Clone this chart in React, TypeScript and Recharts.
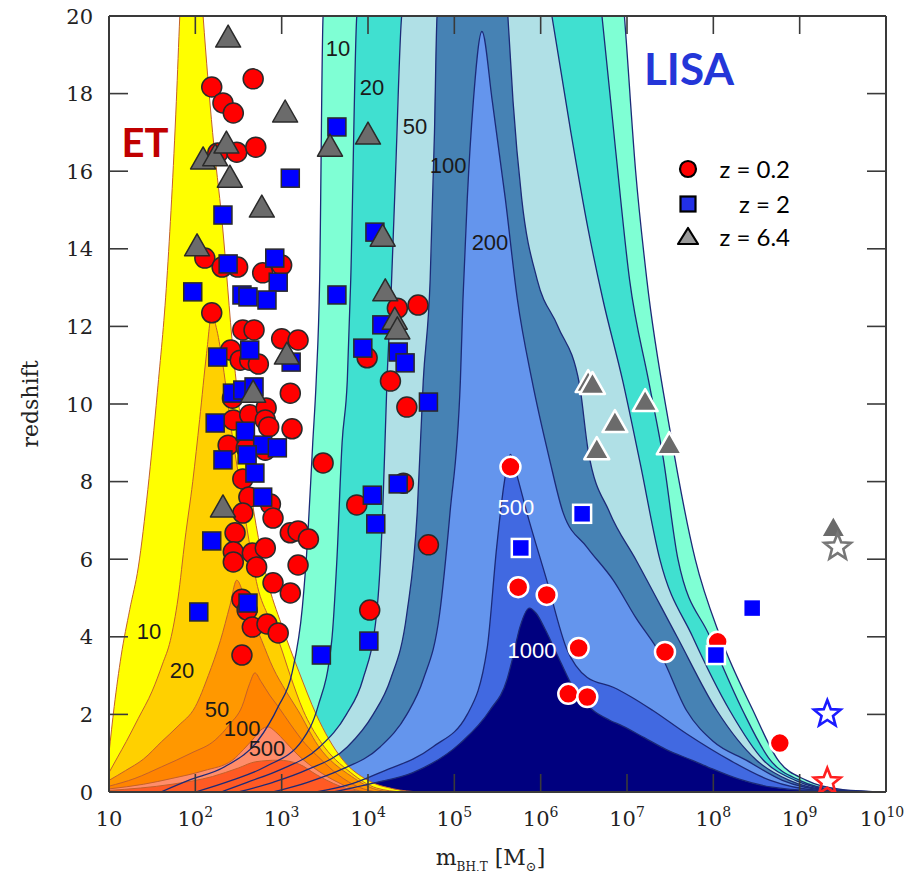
import React from "react";
import { ComposedChart, Area, Line, Scatter, XAxis, YAxis, ReferenceDot, Legend } from "recharts";

type Pt = [number, number];

const CHART_W = 913;
const CHART_H = 879;

// axis ticks: x values are log10(mass)
const xTicks = [1, 2, 3, 4, 5, 6, 7, 8, 9, 10];
const yTicks = [0, 2, 4, 6, 8, 10, 12, 14, 16, 18, 20];

// ---- ET SNR contours: [log10 m, max redshift] ----
const et10: Pt[] = [[1.0,1.0],[1.06,2.2],[1.14,3.5],[1.24,4.7],[1.34,5.8],[1.45,7.8],[1.56,10.3],[1.67,13.2],[1.78,17.8],[1.82,20],[1.95,25],[2.09,20],[2.2,17],[2.31,14.7],[2.44,11.3],[2.63,7.9],[2.83,5.5],[3.0,4.3],[3.2,3.1],[3.4,2.0],[3.7,0.85],[4.0,0.3],[4.3,0.08],[4.6,0]];
const et20: Pt[] = [[1.0,0.5],[1.1,0.9],[1.2,1.3],[1.34,1.9],[1.5,2.6],[1.62,3.3],[1.71,3.9],[1.8,5.0],[1.88,6.5],[1.97,8.0],[2.05,9.6],[2.13,11.3],[2.19,12.3],[2.25,11.9],[2.32,11.0],[2.42,9.3],[2.52,7.9],[2.62,6.5],[2.72,5.3],[2.85,4.5],[2.98,3.8],[3.1,3.0],[3.25,2.1],[3.45,1.3],[3.8,0.5],[4.1,0.1],[4.4,0]];
const et50: Pt[] = [[1.0,0.3],[1.19,0.55],[1.4,0.85],[1.61,1.3],[1.8,1.7],[2.0,2.2],[2.15,3.0],[2.29,3.9],[2.4,4.8],[2.48,5.46],[2.56,5.1],[2.66,4.5],[2.77,3.9],[2.9,3.2],[3.05,2.6],[3.19,2.1],[3.42,1.2],[3.81,0.4],[4.1,0.06],[4.3,0]];
const et100: Pt[] = [[1.0,0.15],[1.3,0.35],[1.61,0.65],[1.95,1.0],[2.23,1.34],[2.4,1.75],[2.54,2.2],[2.63,2.8],[2.69,3.07],[2.76,2.85],[2.86,2.5],[2.96,2.2],[3.1,1.75],[3.27,1.25],[3.45,0.85],[3.65,0.45],[3.9,0.12],[4.1,0]];
const et200: Pt[] = [[1.0,0.08],[1.4,0.2],[1.73,0.35],[2.1,0.55],[2.43,0.82],[2.56,1.1],[2.66,1.34],[2.76,1.6],[2.84,1.68],[2.93,1.55],[3.04,1.3],[3.19,0.95],[3.42,0.55],[3.65,0.25],[3.9,0.03],[4.0,0]];
const et500: Pt[] = [[1.0,0.04],[1.73,0.2],[2.2,0.4],[2.5,0.62],[2.7,0.78],[2.96,0.82],[3.2,0.72],[3.4,0.45],[3.6,0.22],[3.8,0.06],[3.95,0]];

// ---- LISA SNR contours ----
const lisa10: Pt[] = [[1.6,0],[1.92,0.3],[2.34,0.65],[2.73,1.34],[2.96,2.2],[3.12,3.07],[3.24,4.77],[3.3,6.5],[3.36,9],[3.40,10.6],[3.44,13.2],[3.48,20],[4.3,32],[6.2,32],[6.97,20],[7.1,16],[7.23,13.2],[7.5,9.3],[7.79,6.0],[8.08,4.0],[8.46,2.1],[8.75,0.82],[9.08,0.3],[9.5,0.06],[10,0]];
const lisa20: Pt[] = [[2.0,0],[2.42,0.3],[2.81,0.65],[3.24,1.34],[3.42,2.2],[3.58,3.9],[3.64,6],[3.70,9],[3.76,10.6],[3.80,13.2],[3.87,20],[4.5,30],[5.8,30],[6.71,20],[6.87,16.5],[7.03,13.2],[7.25,10.6],[7.42,8.6],[7.59,6.0],[7.96,4.0],[8.34,2.1],[8.66,0.82],[9.0,0.3],[9.45,0.05],[10,0]];
const lisa50: Pt[] = [[2.3,0],[2.6,0.25],[2.98,0.57],[3.44,1.16],[3.75,2.0],[3.94,2.9],[4.1,4.6],[4.17,7.2],[4.22,10.6],[4.27,13],[4.32,16],[4.39,20],[4.9,26],[5.6,26],[6.13,20],[6.35,17],[6.55,14.5],[6.72,12.7],[6.95,10.6],[7.15,8.5],[7.38,6.0],[7.76,4.0],[8.19,2.1],[8.58,0.82],[8.95,0.3],[9.4,0.05],[10,0]];
const lisa100: Pt[] = [[2.5,0],[2.9,0.25],[3.29,0.57],[3.76,1.16],[4.06,2.0],[4.26,2.9],[4.45,4.6],[4.57,7.2],[4.64,10.6],[4.72,13.2],[4.77,17],[4.80,20],[5.1,24],[5.45,24],[5.62,20],[5.68,17.8],[5.78,15.3],[5.96,13.2],[6.2,12],[6.45,10.5],[6.55,8.8],[6.8,7.2],[7.1,6.0],[7.58,4.0],[8.04,2.1],[8.5,0.82],[8.88,0.3],[9.35,0.05],[10,0]];
const lisa200: Pt[] = [[2.9,0],[3.3,0.25],[3.68,0.57],[4.14,1.16],[4.45,2.0],[4.64,2.9],[4.83,4.6],[4.95,7.2],[5.07,10.6],[5.10,12.7],[5.15,15.3],[5.22,17.8],[5.32,19.6],[5.44,17.8],[5.59,15.3],[5.73,12.7],[5.9,10.6],[6.1,8.6],[6.26,7.2],[6.54,6.3],[6.84,5.46],[7.1,4.5],[7.4,3.5],[7.69,2.1],[8.0,1.3],[8.38,0.82],[8.8,0.3],[9.3,0.05],[10,0]];
const lisa500: Pt[] = [[3.4,0],[3.8,0.2],[4.14,0.5],[4.75,1.16],[5.15,2.0],[5.38,3.7],[5.49,6.3],[5.58,8.0],[5.65,8.7],[5.72,8.2],[5.84,7.2],[6.07,5.46],[6.3,3.7],[6.54,2.95],[6.84,2.7],[7.05,2.45],[7.3,2.1],[7.69,1.5],[8.19,0.82],[8.66,0.3],[9.2,0.05],[10,0]];
const lisa1000: Pt[] = [[3.6,0],[4.06,0.23],[4.52,0.5],[5.07,1.26],[5.41,2.1],[5.61,2.9],[5.67,3.4],[5.76,4.25],[5.87,4.74],[5.95,4.6],[6.05,4.2],[6.22,3.4],[6.4,2.6],[6.61,2.1],[6.8,1.85],[6.95,1.7],[7.2,1.4],[7.45,1.1],[7.75,0.82],[7.93,0.65],[8.3,0.33],[8.66,0.13],[9.2,0.03],[10,0]];

const etContours = [et10, et20, et50, et100, et200, et500];
const etFills = ["#ffff00", "#ffd000", "#ff9800", "#ff8400", "#ff8d6a", "#ff5a24"];
const lisaContours = [lisa10, lisa20, lisa50, lisa100, lisa200, lisa500, lisa1000];
const lisaFills = ["#7fffd4", "#40e0d0", "#b0e0e6", "#4682b4", "#6495ed", "#4169e1", "#00007f"];

// ---- sources: [log10 m, redshift] ----
const redET: Pt[] = [[2.19,18.17],[2.32,17.76],[2.44,17.50],[2.67,18.38],[2.26,16.47],[2.48,16.49],[2.70,16.62],[2.11,13.76],[2.31,13.53],[2.49,13.53],[2.78,13.38],[3.00,13.58],[2.19,12.35],[2.55,11.91],[2.68,11.91],[3.00,11.68],[3.19,11.65],[2.41,11.39],[2.52,11.13],[2.63,11.13],[2.73,11.03],[3.10,10.28],[2.43,10.15],[2.44,9.59],[2.63,9.72],[2.82,9.90],[2.81,9.59],[2.85,9.41],[3.12,9.36],[2.38,8.94],[2.59,8.87],[2.81,8.81],[3.48,8.48],[2.55,8.07],[2.62,7.60],[2.87,7.42],[2.55,7.19],[2.90,7.06],[2.46,6.68],[2.44,6.19],[2.66,6.16],[2.81,6.29],[2.71,5.80],[3.10,6.68],[3.19,6.73],[3.31,6.52],[3.19,5.85],[2.90,5.39],[3.10,5.13],[2.54,4.97],[2.60,4.69],[2.66,4.25],[2.83,4.33],[2.96,4.10],[2.54,3.53],[2.44,5.93],[4.02,4.69],[3.87,7.40],[3.99,11.19],[4.26,10.59],[4.45,9.92],[4.34,12.47],[4.58,12.55],[4.41,7.96],[4.70,6.37]];
const redLISA: Pt[] = [[5.65,8.38],[5.74,5.28],[6.07,5.08],[6.44,3.71],[6.32,2.53],[6.54,2.45],[7.44,3.61],[8.05,3.87],[8.77,1.26]];
const blueET: Pt[] = [[3.64,17.14],[3.10,15.82],[2.32,14.87],[1.97,12.89],[2.38,13.61],[2.92,13.76],[2.96,13.14],[2.54,12.81],[2.61,12.76],[2.83,12.68],[3.64,12.81],[4.08,14.43],[2.26,11.21],[2.63,11.39],[3.11,11.08],[2.43,10.28],[2.55,10.36],[2.68,10.44],[2.23,9.51],[2.58,9.30],[2.78,8.94],[2.95,8.87],[2.32,8.56],[2.60,8.69],[2.69,8.22],[2.78,7.60],[2.19,6.47],[2.04,4.64],[2.61,4.87],[3.46,3.53],[4.01,3.89],[3.94,11.44],[4.16,12.04],[4.35,11.34],[4.43,11.06],[4.70,10.05],[4.05,7.65],[4.09,6.91],[4.35,7.94]];
const blueLISA: Pt[] = [[6.48,7.17],[5.77,6.29],[8.03,3.53],[8.45,4.74]];
const grayET: Pt[] = [[2.38,19.43],[3.04,17.50],[3.56,16.62],[4.00,16.93],[2.09,16.29],[2.23,16.37],[2.36,16.70],[2.40,15.82],[2.77,15.05],[2.02,14.05],[4.17,14.30],[4.20,12.89],[4.31,12.16],[4.34,11.91],[3.06,11.26],[2.67,10.28],[2.32,7.32]];
const grayLISA: Pt[] = [[6.55,10.54],[6.60,10.49],[7.21,10.05],[6.86,9.51],[6.65,8.81],[7.49,8.94],[9.39,6.80]];
const starGray: Pt[] = [[9.44,6.31]];
const starBlue: Pt[] = [[9.32,2.01]];
const starRed: Pt[] = [[9.32,0.26]];

// ---- annotations ----
const etLabels = [
  { lg: 1.463, z: 4.15, text: "10" },
  { lg: 1.846, z: 3.14, text: "20" },
  { lg: 2.251, z: 2.14, text: "50" },
  { lg: 2.541, z: 1.65, text: "100" },
  { lg: 2.83, z: 1.13, text: "500" },
];
const lisaLabels = [
  { lg: 3.653, z: 19.18, text: "10", color: "#1a1a1a" },
  { lg: 4.046, z: 18.17, text: "20", color: "#1a1a1a" },
  { lg: 4.545, z: 17.16, text: "50", color: "#1a1a1a" },
  { lg: 4.927, z: 16.16, text: "100", color: "#1a1a1a" },
  { lg: 5.413, z: 14.18, text: "200", color: "#1a1a1a" },
  { lg: 5.714, z: 7.35, text: "500", color: "#ffffff" },
  { lg: 5.9, z: 3.66, text: "1000", color: "#ffffff" },
];
const detectorLabels = [
  { lg: 1.417, z: 16.75, text: "ET", color: "#c00000", size: 40 },
  { lg: 7.718, z: 18.63, text: "LISA", color: "#2436d8", size: 44 },
];
const legendItems = [
  { label: "z = 0.2", marker: "circle" },
  { label: "z = 2", marker: "square" },
  { label: "z = 6.4", marker: "triangle" },
];

const rows = (pts: Pt[]) => pts.map(([lg, z]) => ({ lg, z }));

const FRAME = "#3a3a3a";
const SERIF = "DejaVu Serif";

const BottomTick = (p: any) => {
  const { x, y, payload } = p;
  const v = payload.value;
  const tx = v === 10 ? x - 4 : x;
  return (
    <g>
      <line x1={x} y1={y} x2={x} y2={y - 18} stroke={FRAME} strokeWidth={1.6} />
      <text x={tx} y={y + 34} textAnchor="middle" fontFamily={SERIF} fontSize={21} fill="#222">
        10{v > 1 ? <tspan dy={-9} fontSize={14}>{v}</tspan> : null}
      </text>
    </g>
  );
};
const TopTick = (p: any) => (
  <line x1={p.x} y1={p.y} x2={p.x} y2={p.y + 18} stroke={FRAME} strokeWidth={1.6} />
);
const LeftTick = (p: any) => (
  <g>
    <line x1={p.x} y1={p.y} x2={p.x + 19} y2={p.y} stroke={FRAME} strokeWidth={1.6} />
    <text x={p.x - 16} y={p.y} dy="0.36em" textAnchor="end" fontFamily={SERIF} fontSize={21} fill="#222">
      {p.payload.value}
    </text>
  </g>
);
const RightTick = (p: any) => (
  <line x1={p.x} y1={p.y} x2={p.x - 19} y2={p.y} stroke={FRAME} strokeWidth={1.6} />
);

const XLabel = (p: any) => {
  const vb = p.viewBox || { x: 0, y: 0, width: 0 };
  return (
    <text x={vb.x + vb.width / 2 - 7} y={vb.y + 73} textAnchor="middle" fontFamily={SERIF} fontSize={22} fill="#222">
      m<tspan fontSize={12} dy={6}>BH,T</tspan>
      <tspan dy={-6}> [M</tspan>
      <tspan fontSize={13} dy={6}>⊙</tspan>
      <tspan dy={-6}>]</tspan>
    </text>
  );
};
const YLabel = (p: any) => {
  const vb = p.viewBox || { x: 0, y: 0, height: 0 };
  const cx = vb.x - 19;
  const cy = vb.y + vb.height / 2;
  return (
    <text x={cx} y={cy} transform={`rotate(-90 ${cx} ${cy})`} textAnchor="middle" dy="0.35em" fontFamily={SERIF} fontSize={22} fill="#222">
      redshift
    </text>
  );
};

const circleShape = (stroke: string, sw: number) => (p: any) => (
  <circle cx={p.cx} cy={p.cy} r={10} fill="#ff0000" stroke={stroke} strokeWidth={sw} />
);
const squareShape = (stroke: string, sw: number) => (p: any) => (
  <rect x={p.cx - 9} y={p.cy - 9} width={18} height={18} fill="#0000ff" stroke={stroke} strokeWidth={sw} />
);
const triShape = (stroke: string, sw: number) => (p: any) => (
  <polygon
    points={`${p.cx},${p.cy - 13} ${p.cx + 12.5},${p.cy + 9} ${p.cx - 12.5},${p.cy + 9}`}
    fill="#6b6b6b" stroke={stroke} strokeWidth={sw} strokeLinejoin="round"
  />
);
const starPts = (cx: number, cy: number, R: number, r: number) => {
  const out: string[] = [];
  for (let i = 0; i < 10; i++) {
    const a = -Math.PI / 2 + (i * Math.PI) / 5;
    const rad = i % 2 === 0 ? R : r;
    out.push(`${cx + rad * Math.cos(a)},${cy + rad * Math.sin(a)}`);
  }
  return out.join(" ");
};
const starShape = (color: string) => (p: any) => (
  <polygon points={starPts(p.cx, p.cy, 14, 6)} fill="none" stroke={color} strokeWidth={2.6} strokeLinejoin="miter" />
);

const textShape = (text: string, color: string, size: number, family: string, weight: string | number) => (p: any) => (
  <text x={p.cx} y={p.cy} dy="0.36em" textAnchor="middle" fontFamily={family} fontSize={size} fontWeight={weight} fill={color}>
    {text}
  </text>
);

const LegendBox = () => (
  <svg width={130} height={100} style={{ display: "block", overflow: "visible" }}>
    {legendItems.map((it, i) => {
      const cy = [13, 48, 81][i];
      let mk: React.ReactNode = null;
      if (it.marker === "circle") mk = <circle cx={13} cy={cy} r={8} fill="#ff0000" stroke="#000" strokeWidth={2.2} />;
      else if (it.marker === "square") mk = <rect x={5.5} y={cy - 7.5} width={15} height={15} fill="#2230e6" stroke="#000" strokeWidth={2.2} />;
      else mk = <polygon points={`13,${cy - 9} 23,${cy + 7} 3,${cy + 7}`} fill="#9a9a9a" stroke="#000" strokeWidth={2.2} strokeLinejoin="round" />;
      return (
        <g key={it.label}>
          {mk}
          <text x={115} y={cy} dy="0.36em" textAnchor="end" fontFamily="Lato" fontSize={24} fill="#000">
            {it.label}
          </text>
        </g>
      );
    })}
  </svg>
);

export default function App() {
  const axisLine = { stroke: FRAME, strokeWidth: 2 };
  return (
    <div style={{ margin: -8, width: CHART_W, height: CHART_H }}>
      <ComposedChart width={CHART_W} height={CHART_H} margin={{ top: 15, right: 26, bottom: 27, left: 49 }}>
        {lisaContours.map((c, i) => (
          <Area key={"la" + i} data={rows(c)} dataKey="z" type="monotone" fill={lisaFills[i]} fillOpacity={1}
            stroke="none" dot={false} activeDot={false} isAnimationActive={false} />
        ))}
        {etContours.map((c, i) => (
          <Area key={"ea" + i} data={rows(c)} dataKey="z" type="monotone" fill={etFills[i]} fillOpacity={1}
            stroke="#c4602a" strokeWidth={1} dot={false} activeDot={false} isAnimationActive={false} />
        ))}
        {lisaContours.map((c, i) => (
          <Line key={"ll" + i} data={rows(c)} dataKey="z" type="monotone" stroke="#1c2a78" strokeWidth={1.3}
            dot={false} activeDot={false} isAnimationActive={false} />
        ))}

        <XAxis dataKey="lg" type="number" domain={[1, 10]} ticks={xTicks} allowDataOverflow interval={0}
          height={60} tickLine={false} tickSize={0} tickMargin={0} axisLine={axisLine} tick={BottomTick} label={XLabel} />
        <XAxis xAxisId="top" orientation="top" dataKey="lg" type="number" domain={[1, 10]} ticks={xTicks}
          allowDataOverflow interval={0} height={1} tickLine={false} tickSize={0} tickMargin={0} axisLine={axisLine} tick={TopTick} />
        <YAxis dataKey="z" type="number" domain={[0, 20]} ticks={yTicks} allowDataOverflow interval={0}
          width={60} tickLine={false} tickSize={0} tickMargin={0} axisLine={axisLine} tick={LeftTick} label={YLabel} />
        <YAxis yAxisId="right" orientation="right" dataKey="z" type="number" domain={[0, 20]} ticks={yTicks}
          allowDataOverflow interval={0} width={1} tickLine={false} tickSize={0} tickMargin={0} axisLine={axisLine} tick={RightTick} />

        {etLabels.map((l) => (
          <ReferenceDot key={"el" + l.text} x={l.lg} y={l.z} r={0} shape={textShape(l.text, "#1a1a1a", 22, "Liberation Sans", 400)} />
        ))}
        {lisaLabels.map((l) => (
          <ReferenceDot key={"ll" + l.text} x={l.lg} y={l.z} r={0} shape={textShape(l.text, l.color, 22, "Liberation Sans", 400)} />
        ))}
        {detectorLabels.map((l) => (
          <ReferenceDot key={"d" + l.text} x={l.lg} y={l.z} r={0} shape={textShape(l.text, l.color, l.size, "Lato", 700)} />
        ))}

        <Scatter data={rows(redET)} shape={circleShape("#2a2a2a", 1.5)} isAnimationActive={false} />
        <Scatter data={rows(redLISA)} shape={circleShape("#ffffff", 2.5)} isAnimationActive={false} />
        <Scatter data={rows(blueET)} shape={squareShape("#2a2a2a", 1.5)} isAnimationActive={false} />
        <Scatter data={rows(blueLISA)} shape={squareShape("#ffffff", 2.5)} isAnimationActive={false} />
        <Scatter data={rows(grayET)} shape={triShape("#2a2a2a", 1.5)} isAnimationActive={false} />
        <Scatter data={rows(grayLISA)} shape={triShape("#ffffff", 2.5)} isAnimationActive={false} />
        <Scatter data={rows(starGray)} shape={starShape("#777777")} isAnimationActive={false} />
        <Scatter data={rows(starBlue)} shape={starShape("#1a1aff")} isAnimationActive={false} />
        <Scatter data={rows(starRed)} shape={starShape("#ff2020")} isAnimationActive={false} />

        <Legend layout="vertical" align="center" verticalAlign="middle" content={() => <LegendBox />}
          wrapperStyle={{ position: "absolute", left: 675, top: 156, width: 130, height: 100 }} />
      </ComposedChart>
    </div>
  );
}
